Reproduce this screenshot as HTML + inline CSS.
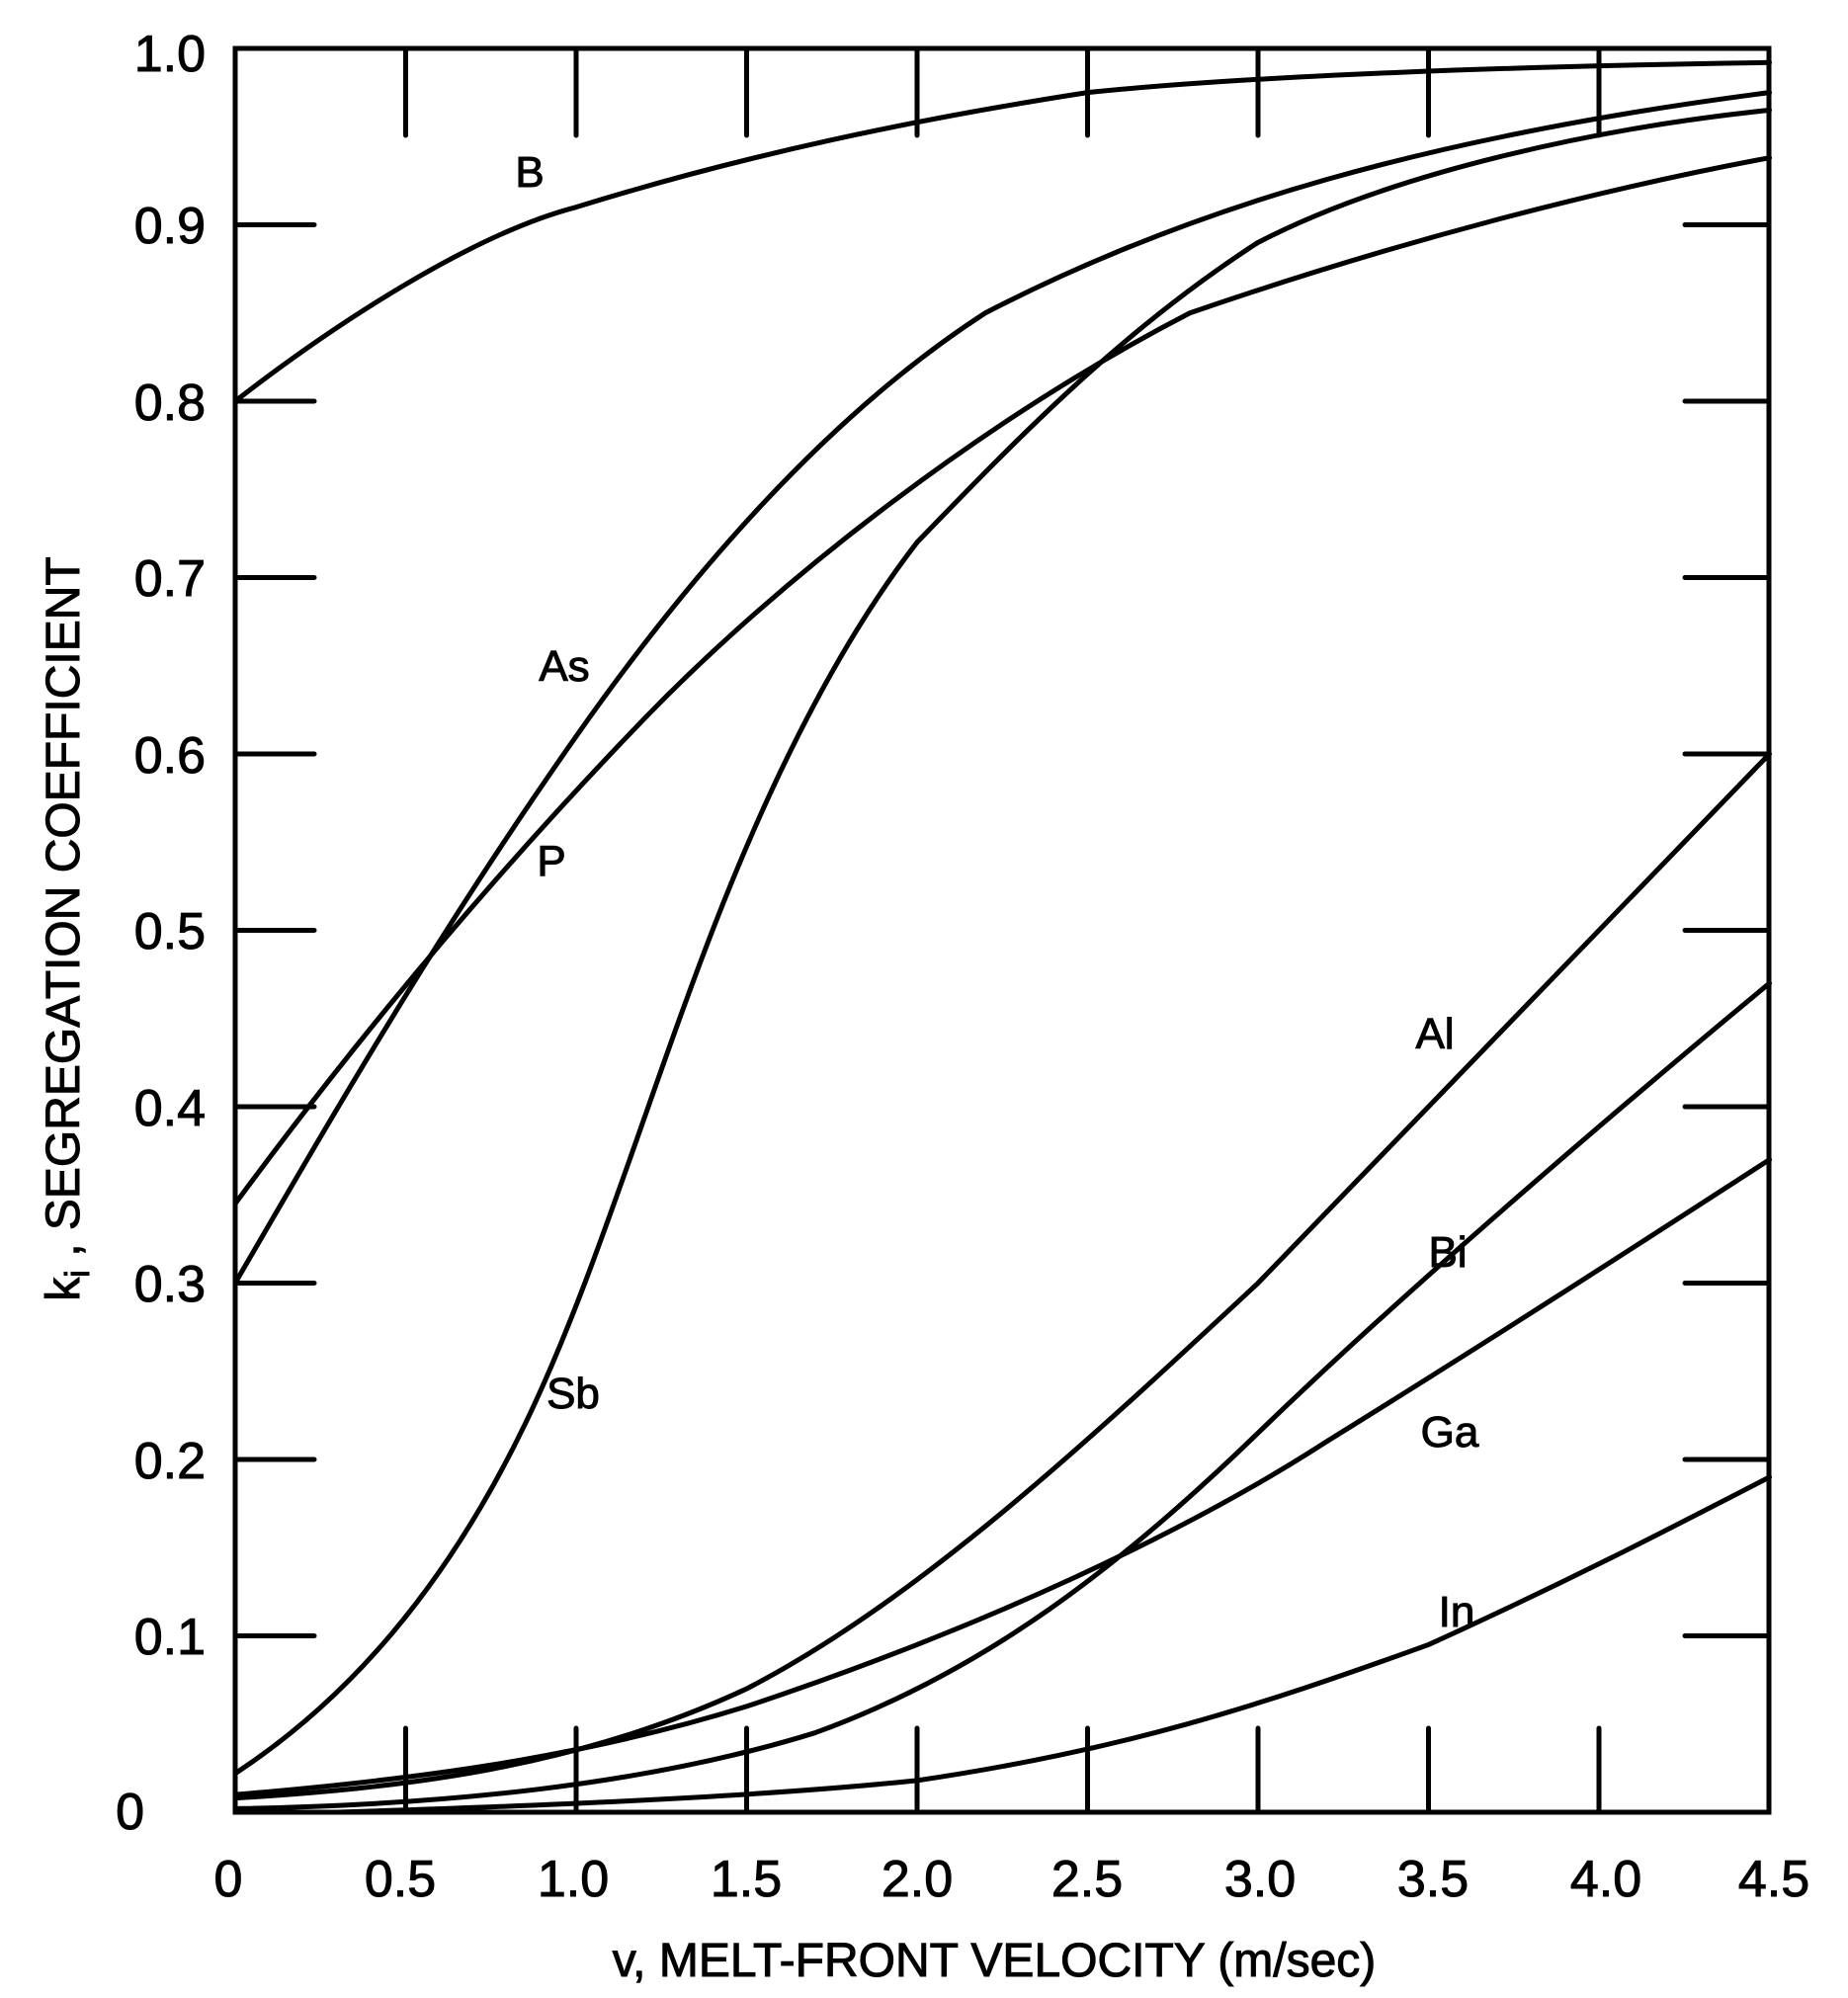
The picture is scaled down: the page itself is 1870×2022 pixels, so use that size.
<!DOCTYPE html>
<html><head><meta charset="utf-8"><style>
html,body{margin:0;padding:0;background:#fff;}
svg{display:block;}
text{font-family:"Liberation Sans",sans-serif;fill:#000;stroke:#000;stroke-width:1;}
</style></head><body>
<svg width="1870" height="2022" viewBox="0 0 1870 2022" xmlns="http://www.w3.org/2000/svg">
<g stroke="#000" fill="none" stroke-linecap="round">
<rect x="238" y="49" width="1552" height="1785" stroke-width="5"/>
<g stroke-width="5">
<path d="M410.5,49v88M583,49v88M755.5,49v88M928,49v88M1100.5,49v88M1273,49v88M1445.5,49v88M1618,49v88"/>
<path d="M410.5,1834v-85M583,1834v-85M755.5,1834v-85M928,1834v-85M1100.5,1834v-85M1273,1834v-85M1445.5,1834v-85M1618,1834v-85"/>
<path d="M238,227.5h80M238,406h80M238,584.5h80M238,763h80M238,941.5h80M238,1120h80M238,1298.5h80M238,1477h80M238,1655.5h80"/>
<path d="M1790,227.5h-85M1790,406h-85M1790,584.5h-85M1790,763h-85M1790,941.5h-85M1790,1120h-85M1790,1298.5h-85M1790,1477h-85M1790,1655.5h-85"/>
</g>
<g transform="translate(238,1834) scale(345,-1785)" stroke-width="5" stroke-linejoin="round">
<path vector-effect="non-scaling-stroke" d="M0,0.80 C0.3,0.845 0.7,0.895 1.0,0.91 C1.5,0.94 2.0,0.96 2.5,0.975 C3.0,0.985 3.8,0.99 4.5,0.992"/>
<path vector-effect="non-scaling-stroke" d="M0,0.30 C0.3,0.40 0.6,0.50 1.0,0.61 C1.4,0.72 1.8,0.80 2.2,0.85 C2.8,0.91 3.5,0.95 4.5,0.975"/>
<path vector-effect="non-scaling-stroke" d="M0,0.345 C0.4,0.45 0.8,0.54 1.2,0.62 C1.6,0.70 2.2,0.79 2.8,0.85 C3.4,0.89 4.0,0.92 4.5,0.938"/>
<path vector-effect="non-scaling-stroke" d="M0,0.022 C0.3,0.06 0.6,0.12 0.85,0.22 C1.05,0.30 1.2,0.40 1.4,0.50 C1.6,0.60 1.8,0.67 2.0,0.72 C2.3,0.78 2.6,0.84 3.0,0.89 C3.4,0.93 4.0,0.955 4.5,0.965"/>
<path vector-effect="non-scaling-stroke" d="M0,0.008 C0.5,0.014 1.0,0.025 1.5,0.07 C2.0,0.12 2.5,0.21 3.0,0.30 L4.5,0.60"/>
<path vector-effect="non-scaling-stroke" d="M0,0.002 C0.6,0.004 1.2,0.015 1.7,0.045 C2.2,0.08 2.6,0.14 3.0,0.215 C3.4,0.29 4.0,0.39 4.5,0.47"/>
<path vector-effect="non-scaling-stroke" d="M0,0.01 C0.5,0.018 1.0,0.03 1.5,0.06 C2.2,0.105 2.8,0.16 3.2,0.21 C3.7,0.27 4.1,0.32 4.5,0.37"/>
<path vector-effect="non-scaling-stroke" d="M0.3,0 C0.8,0.003 1.5,0.008 2.0,0.018 C2.6,0.035 3.0,0.06 3.5,0.095 C3.9,0.13 4.2,0.16 4.5,0.19"/>
</g>
</g>
<g font-size="52" text-anchor="end">
<text x="208" y="72">1.0</text>
<text x="208" y="246">0.9</text>
<text x="208" y="425">0.8</text>
<text x="208" y="603">0.7</text>
<text x="208" y="782">0.6</text>
<text x="208" y="960">0.5</text>
<text x="208" y="1139">0.4</text>
<text x="208" y="1317">0.3</text>
<text x="208" y="1496">0.2</text>
<text x="208" y="1674">0.1</text>
<text x="146" y="1851">0</text>
</g>
<g font-size="52" text-anchor="middle">
<text x="231" y="1919">0</text>
<text x="405" y="1919">0.5</text>
<text x="580" y="1919">1.0</text>
<text x="755" y="1919">1.5</text>
<text x="928" y="1919">2.0</text>
<text x="1100" y="1919">2.5</text>
<text x="1275" y="1919">3.0</text>
<text x="1450" y="1919">3.5</text>
<text x="1625" y="1919">4.0</text>
<text x="1795" y="1919">4.5</text>
</g>
<text x="1006" y="2000" font-size="48" text-anchor="middle">v, MELT-FRONT VELOCITY (m/sec)</text>
<text transform="translate(80,940) rotate(-90)" font-size="48" text-anchor="middle">k<tspan font-size="34" dy="10">i</tspan><tspan dy="-10"> , SEGREGATION COEFFICIENT</tspan></text>
<g font-size="44" text-anchor="middle">
<text x="536" y="189">B</text>
<text x="571" y="689">As</text>
<text x="558" y="886">P</text>
<text x="580" y="1425">Sb</text>
<text x="1452" y="1061">Al</text>
<text x="1465" y="1282">Bi</text>
<text x="1467" y="1464">Ga</text>
<text x="1474" y="1646">In</text>
</g>
</svg>
</body></html>
